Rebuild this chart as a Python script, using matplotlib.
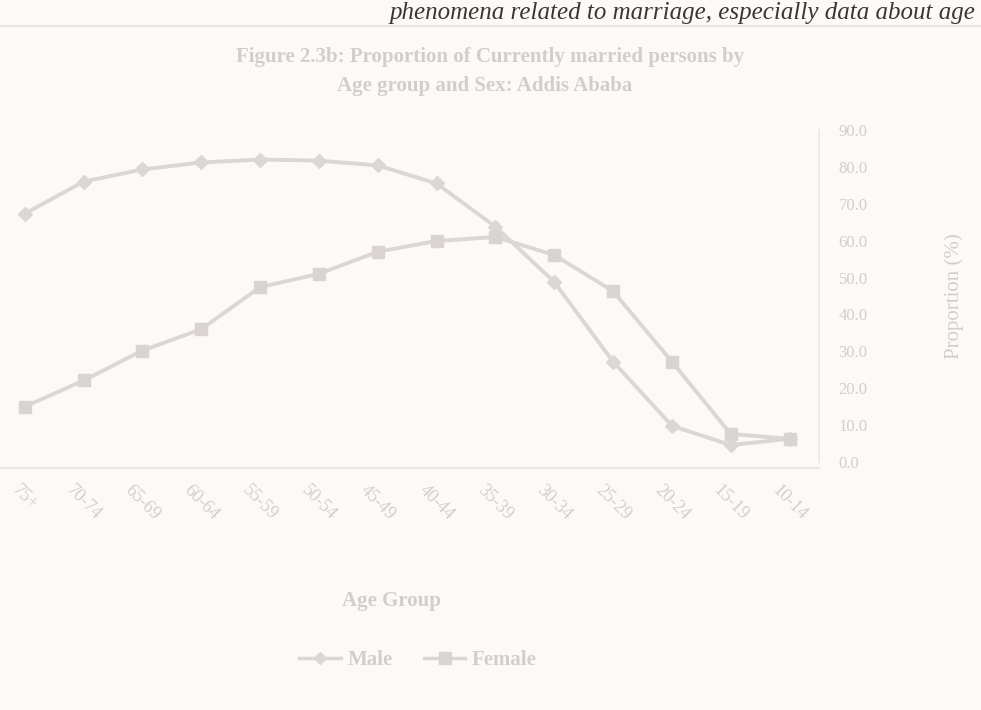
import matplotlib
matplotlib.use("Agg")
import matplotlib.pyplot as plt
from matplotlib.lines import Line2D

age_groups = ["10-14", "15-19", "20-24", "25-29", "30-34", "35-39", "40-44",
              "45-49", "50-54", "55-59", "60-64", "65-69", "70-74", "75+"]
male = [6.3, 4.6, 9.8, 27.2, 48.8, 63.8, 75.5, 80.4, 81.7, 82.0, 81.2, 79.3, 76.0, 67.3]
female = [6.3, 7.6, 27.2, 46.3, 56.1, 61.0, 59.9, 57.0, 51.0, 47.4, 36.0, 30.2, 22.1, 15.0]
y_ticks = [0, 10, 20, 30, 40, 50, 60, 70, 80, 90]

bg = "#fdf9f7"
faint = "#d3cecc"
line_col = "#dcd7d5"

plt.rcParams['font.family'] = ['Liberation Serif', 'DejaVu Serif']

fig = plt.figure(figsize=(9.81, 7.10), dpi=100, facecolor=bg)

# axes placed in pixel terms of the 981x710 page
W, H = 981, 710
left, right, top, bottom = 0, 819, 130, 462
ax = fig.add_axes([left / W, 1 - bottom / H, (right - left) / W, (bottom - top) / H])
ax.set_facecolor(bg)

x = list(range(len(age_groups)))
ax.plot(x, male, color=line_col, lw=2.8, marker='D', ms=7,
        mfc=line_col, mec=line_col, zorder=3)
ax.plot(x, female, color=line_col, lw=2.8, marker='s', ms=9,
        mfc="#d9d4d2", mec="#d9d4d2", zorder=3)

# the scan shows the chart from the back side of the page, so it is mirrored
ax.set_xlim(13.42, -0.5)
ax.set_ylim(0, 90)

ax.yaxis.tick_right()
ax.yaxis.set_label_position("right")
ax.tick_params(axis='y', length=0, pad=14, labelcolor=faint, labelsize=12)
ax.set_yticks(y_ticks)
ax.set_yticklabels([f"{v:.1f}" for v in y_ticks])

ax.tick_params(axis='x', length=0, pad=10, labelcolor=faint, labelsize=13,
               labelrotation=-45)
ax.set_xticks(x)
ax.set_xticklabels(age_groups)
for lbl in ax.get_xticklabels():
    lbl.set_ha('left')
    lbl.set_va('top')
    lbl.set_rotation_mode('anchor')

for s in ['top', 'left']:
    ax.spines[s].set_visible(False)
ax.spines['right'].set_color("#ece7e5")
ax.spines['bottom'].set_color("#ebe5e3")
ax.spines['bottom'].set_position(('outward', 4))
ax.spines['right'].set_linewidth(1.2)
ax.spines['bottom'].set_linewidth(1.5)

ax.set_ylabel("Proportion (%)", color=faint, fontsize=15, labelpad=55)

fig.text(490 / W, 1 - 57 / H, "Figure 2.3b: Proportion of Currently married persons by",
         ha='center', va='center', fontsize=15, fontweight='bold', color=faint)
fig.text(485 / W, 1 - 86 / H, "Age group and Sex: Addis Ababa",
         ha='center', va='center', fontsize=15, fontweight='bold', color=faint)

fig.text(392 / W, 1 - 601 / H, "Age Group", ha='center', va='center',
         fontsize=15, fontweight='bold', color=faint)

handles = [Line2D([], [], color=line_col, lw=2.5, marker='D', ms=6, mfc=line_col, mec=line_col),
           Line2D([], [], color=line_col, lw=2.5, marker='s', ms=8, mfc="#d9d4d2", mec="#d9d4d2")]
leg = fig.legend(handles, ["Male", "Female"], loc='center', bbox_to_anchor=(418 / W, 1 - 660 / H),
                 ncol=2, frameon=False, labelcolor=faint,
                 prop={'size': 15, 'weight': 'bold'},
                 handlelength=2.0, columnspacing=1.5, handletextpad=0.3)

# text of the real page, at the top edge
fig.text(975 / W, 1 - 2 / H, "phenomena related to marriage, especially data about age",
         ha='right', va='top', fontsize=18, style='italic', color="#3a3636")
fig.add_artist(Line2D([0, 1], [1 - 26 / H, 1 - 26 / H], transform=fig.transFigure,
                      color="#ebe6e4", lw=1.5))

fig.savefig("out.png", dpi=100, facecolor=bg)
